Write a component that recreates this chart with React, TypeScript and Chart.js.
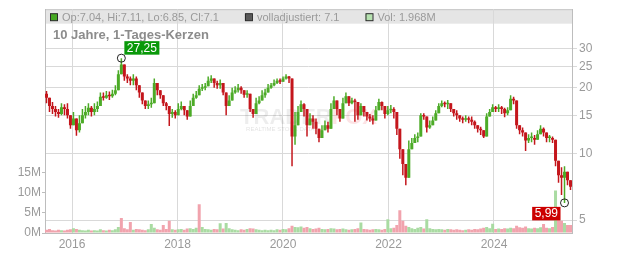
import { useEffect, useRef } from 'react';
import { Chart, registerables } from 'chart.js';

Chart.register(...registerables);

// ---- data ----
const START_YEAR = 2015.488;
const END_YEAR = 2025.479;
const FIRST_OPEN = 18.8;

const closes = [
  18.0, 16.5, 16.0, 15.5, 15.2, 16.3, 16.0, 15.0, 13.5, 14.5,
  12.8, 13.8, 15.0, 15.5, 16.2, 15.5, 16.0, 16.5, 18.2, 18.0,
  18.5, 18.3, 18.8, 19.5, 23.0, 25.5, 22.5, 22.0, 21.5, 22.0,
  20.5, 19.0, 17.5, 16.5, 16.8, 17.0, 21.0, 19.5, 18.5, 17.0,
  16.5, 15.2, 15.5, 15.0, 16.0, 16.5, 15.8, 14.8, 16.5, 18.0,
  18.5, 19.8, 20.0, 20.3, 21.5, 22.0, 21.0, 20.5, 21.0, 19.0,
  16.5, 17.5, 19.0, 19.5, 20.0, 19.5, 18.6, 18.8, 16.0, 15.2,
  17.0, 17.5, 18.5, 19.0, 20.0, 20.5, 21.0, 21.5, 21.3, 22.0,
  22.5, 22.0, 12.0, 13.5, 15.5, 16.8, 16.0, 13.5, 14.5, 14.0,
  13.0, 11.8, 12.8, 13.5, 13.0, 16.0, 17.5, 16.0, 14.5, 17.0,
  18.3, 17.0, 17.5, 17.2, 15.0, 16.5, 15.5, 14.8, 14.5, 14.2,
  15.8, 17.2, 16.5, 15.2, 15.8, 16.0, 15.5, 13.0, 10.5, 9.0,
  7.8, 10.5, 11.2, 11.8, 12.0, 15.0, 14.8, 13.2, 13.5, 14.2,
  15.3, 16.5, 17.0, 16.8, 17.0, 16.0, 15.3, 15.0, 14.5, 14.3,
  14.5, 14.3, 14.0, 13.5, 13.0, 12.8, 12.0, 14.8, 15.5, 16.3,
  16.0, 16.3, 16.0, 15.3, 15.8, 17.8, 17.5, 13.5, 12.8, 12.5,
  11.5, 11.8, 11.8, 11.6, 12.3, 13.0, 12.5, 11.8, 11.8, 11.6,
  9.3, 8.0, 7.8, 8.3, 7.6, 7.1,
];

const highs = [
  19.3, 17.5, 17.2, 16.5, 16.0, 17.0, 16.8, 17.0, 14.5, 15.5,
  14.0, 15.0, 16.0, 16.5, 17.0, 16.5, 17.0, 17.3, 19.0, 19.0,
  19.3, 19.2, 19.6, 20.5, 24.0, 27.25, 24.0, 23.0, 22.5, 23.0,
  22.5, 20.5, 18.5, 17.5, 17.5, 18.0, 22.0, 21.0, 19.5, 18.0,
  17.2, 16.2, 16.0, 15.8, 17.0, 17.3, 16.5, 15.6, 17.5, 18.8,
  19.3, 20.5, 20.8, 21.0, 22.5, 22.8, 21.8, 21.5, 21.8, 20.5,
  18.0, 18.5, 20.0, 20.3, 20.8, 20.3, 19.3, 19.5, 17.5, 16.0,
  18.0, 18.3, 19.5, 19.8, 20.8, 21.0, 21.8, 22.0, 22.0, 22.5,
  23.0, 22.6, 20.0, 15.5, 16.5, 17.5, 17.0, 15.0, 15.3, 15.0,
  14.5, 12.8, 13.5, 14.2, 14.0, 17.0, 18.3, 17.0, 16.0, 18.0,
  19.0, 18.0, 18.0, 17.8, 16.0, 17.0, 16.2, 15.5, 15.2, 15.0,
  16.5, 17.8, 17.3, 16.0, 16.5, 16.7, 16.3, 14.0, 12.5, 10.5,
  9.0, 11.5, 11.8, 12.3, 12.5, 15.3, 15.3, 14.5, 14.2, 14.8,
  15.8, 17.0, 17.5, 17.3, 17.6, 16.8, 16.0, 15.8, 15.0, 14.8,
  15.0, 14.8, 14.8, 14.2, 13.5, 13.3, 12.8, 15.3, 16.0, 16.8,
  16.5, 16.8, 16.5, 16.2, 16.3, 18.5, 18.2, 17.5, 13.5, 13.2,
  12.3, 12.3, 12.5, 12.2, 12.8, 13.5, 13.2, 12.3, 12.2, 12.0,
  10.0, 8.8, 8.7, 8.8, 8.2, 7.4,
];

const lows = [
  17.0, 15.5, 15.2, 14.8, 14.6, 15.0, 15.0, 14.5, 13.0, 13.5,
  12.1, 12.5, 14.0, 14.5, 15.0, 14.8, 15.0, 15.5, 17.5, 17.5,
  17.8, 17.6, 18.0, 18.5, 21.0, 23.5, 21.5, 21.0, 20.5, 20.5,
  19.5, 18.0, 16.8, 16.0, 16.0, 16.2, 19.5, 18.5, 17.8, 16.5,
  15.8, 13.4, 14.6, 14.5, 15.3, 15.8, 15.0, 14.3, 15.0, 17.0,
  17.8, 19.0, 19.3, 19.5, 20.5, 21.0, 20.0, 19.8, 19.8, 18.5,
  15.0, 16.5, 18.0, 18.8, 19.0, 18.8, 18.0, 18.0, 15.5, 14.6,
  16.2, 16.8, 17.8, 18.0, 19.3, 19.8, 20.3, 20.8, 20.8, 21.3,
  21.8, 21.0, 8.8, 11.0, 14.0, 15.5, 14.8, 12.0, 13.5, 13.0,
  12.3, 11.3, 12.0, 12.8, 12.5, 15.0, 16.5, 15.0, 14.0, 16.0,
  17.2, 16.5, 16.8, 14.0, 14.3, 15.5, 14.8, 14.2, 14.0, 13.6,
  15.0, 16.5, 15.8, 14.5, 15.0, 15.3, 14.5, 12.2, 9.5, 8.0,
  7.2, 9.5, 10.5, 11.2, 11.3, 12.5, 14.3, 12.5, 13.0, 13.5,
  14.6, 15.8, 16.3, 16.3, 16.0, 15.5, 14.8, 14.3, 14.0, 13.8,
  14.0, 13.8, 13.5, 13.0, 12.5, 12.2, 11.8, 12.5, 15.0, 15.8,
  15.5, 15.5, 15.2, 14.7, 15.0, 17.0, 16.8, 13.0, 12.3, 12.0,
  10.3, 11.2, 11.3, 11.0, 11.8, 12.3, 12.0, 11.3, 11.3, 11.2,
  8.8, 7.4, 6.5, 5.99, 7.2, 6.85,
];

const volumesM = [
  0.8, 1.0, 0.7, 0.6, 0.8, 0.7, 0.6, 0.8, 0.9, 1.2,
  1.0, 0.8, 0.7, 0.6, 0.8, 0.6, 0.7, 0.6, 0.9, 0.7,
  0.6, 0.8, 0.7, 0.9, 1.5, 3.7, 1.2, 0.9, 2.7, 0.8,
  1.0, 0.9, 0.8, 0.7, 0.9, 2.2, 1.3, 0.9, 0.8, 2.0,
  1.0, 3.0, 0.9, 0.8, 0.9, 1.0, 0.8, 1.1, 1.2, 1.0,
  1.3, 7.1, 1.5, 1.0, 0.9, 0.8, 1.0, 0.9, 2.4, 1.1,
  2.5, 1.2, 0.9, 0.8, 0.7, 0.9, 0.8, 1.0, 1.2, 1.1,
  0.9, 0.8, 0.7, 0.8, 0.7, 0.8, 0.7, 0.9, 0.8, 1.0,
  0.9, 1.2, 1.8, 1.5, 1.4, 1.6, 1.3, 1.5, 1.2, 1.0,
  1.1, 1.3, 1.0, 0.9, 1.0, 1.2, 1.1, 0.9, 1.0, 1.1,
  0.9, 0.8, 0.9, 1.0, 1.2, 2.6, 1.0, 0.9, 0.8, 0.9,
  1.0, 0.9, 0.8, 1.0, 3.4, 1.2, 1.3, 2.0, 5.6, 3.0,
  1.8, 1.5, 1.2, 1.0, 1.3, 1.5, 1.1, 3.4, 1.2, 1.0,
  0.9, 1.0, 0.9, 0.8, 1.0, 0.9, 0.8, 0.9, 0.8, 0.7,
  0.8, 0.9, 0.8, 1.0, 0.9, 1.1, 1.3, 1.5, 1.2, 2.3,
  1.0, 1.1, 1.0, 1.2, 1.1, 1.3, 1.2, 1.8, 1.4, 1.3,
  1.6, 1.2, 1.1, 1.3, 1.2, 1.4, 2.2, 1.3, 1.2, 1.5,
  10.5, 4.4, 3.0, 2.5, 2.0, 1.97,
];

// colour of the taller volume spikes as seen in the picture (g = up day, r = down day)
const spikeTone: Record<number, string> = {
  25: 'r', 28: 'r', 35: 'g', 39: 'r', 41: 'r', 51: 'r', 58: 'g', 60: 'g',
  105: 'g', 114: 'g', 118: 'r', 119: 'r', 127: 'g', 149: 'g', 166: 'r',
  170: 'g', 171: 'r', 172: 'r', 173: 'g',
};

const yearTicks = [2016, 2018, 2020, 2022, 2024];
const priceTicks = [5, 10, 15, 20, 25, 30];
const volumeTicks = [0, 5e6, 10e6, 15e6];

const headerItems = [
  { color: '#46a823', text: 'Op:7.04, Hi:7.11, Lo:6.85, Cl:7.1' },
  { color: '#5a5a5a', text: 'volladjustiert: 7.1' },
  { color: '#b6e2b0', text: 'Vol: 1.968M' },
];
const TITLE = '10 Jahre, 1-Tages-Kerzen';

// ---- axis ranges & styles ----
const PRICE_MIN = 4.37;
const PRICE_MAX = 45.5;
const VOL_MAX = 55.3e6;
const FONT = "'Liberation Sans', Arial, Helvetica, sans-serif";
const GRID = '#d9d9d9';
const AXIS = '#bdbdbd';
const TICK = '#9a9a9a';
const RED = '#c4161c';
const GREEN = '#4cab27';
const VOL_RED = '#f1a3ad';
const VOL_GREEN = '#a9dba2';

const n = closes.length;
const stepYears = (END_YEAR - START_YEAR) / n;
const times = closes.map((_, i) => START_YEAR + (i + 0.5) * stepYears);
const opens = closes.map((_, i) => (i === 0 ? FIRST_OPEN : closes[i - 1]));
const up = closes.map((c, i) => c >= opens[i]);

const overlayPlugin = {
  id: 'overlay',
  beforeDraw(chart: any) {
    const { ctx, chartArea: a } = chart;
    ctx.save();
    ctx.fillStyle = '#e5e5e5';
    ctx.fillRect(a.left, a.top, a.right - a.left, 14.5);
    ctx.strokeStyle = '#c6c6c6';
    ctx.lineWidth = 1;
    ctx.beginPath();
    ctx.moveTo(a.left, a.top + 0.5);
    ctx.lineTo(a.right, a.top + 0.5);
    ctx.stroke();
    ctx.restore();
  },
  beforeDatasetsDraw(chart: any) {
    const { ctx, chartArea: a } = chart;
    ctx.save();
    ctx.font = `bold 22px ${FONT}`;
    const w1 = ctx.measureText('TRADER').width;
    const w2 = ctx.measureText('FOX').width;
    const cx = (a.left + a.right) / 2;
    const x0 = cx - (w1 + w2) / 2;
    ctx.textBaseline = 'alphabetic';
    ctx.fillStyle = 'rgba(0,0,0,0.07)';
    ctx.fillText('TRADER', x0, 124);
    ctx.fillStyle = 'rgba(228,40,55,0.13)';
    ctx.fillText('FOX', x0 + w1, 124);
    ctx.font = `6px ${FONT}`;
    ctx.fillStyle = 'rgba(0,0,0,0.12)';
    ctx.fillText('REALTIME STOCK DATA', x0 + 6, 131);
    ctx.restore();
  },
  afterDraw(chart: any) {
    const { ctx, chartArea: a, scales } = chart;
    ctx.save();
    // header legend
    ctx.font = `11px ${FONT}`;
    ctx.textBaseline = 'alphabetic';
    let x = a.left + 5;
    headerItems.forEach((it) => {
      ctx.fillStyle = it.color;
      ctx.fillRect(x, a.top + 4.5, 7, 7);
      ctx.strokeStyle = '#2a2a2a';
      ctx.lineWidth = 1;
      ctx.strokeRect(x + 0.5, a.top + 4.5, 7, 7);
      ctx.fillStyle = '#9a9a9a';
      ctx.fillText(it.text, x + 12, a.top + 12);
      x += 12 + ctx.measureText(it.text).width + 26;
    });
    // title
    ctx.font = `bold 13px ${FONT}`;
    ctx.fillStyle = '#8c8c8c';
    ctx.fillText(TITLE, a.left + 8, a.top + 29.5);

    // extremes
    const xs = scales.x;
    const ys = scales.price;
    let maxI = 0;
    let minI = 0;
    for (let i = 0; i < n; i++) {
      if (highs[i] > highs[maxI]) maxI = i;
      if (lows[i] < lows[minI]) minI = i;
    }
    const drawMarker = (i: number, value: number, color: string, above: boolean) => {
      const cx = xs.getPixelForValue(times[i]);
      const cy = ys.getPixelForValue(value);
      ctx.strokeStyle = '#222';
      ctx.lineWidth = 1;
      ctx.beginPath();
      ctx.arc(cx, cy, 4, 0, Math.PI * 2);
      ctx.stroke();
      const label = value.toFixed(2).replace('.', ',');
      ctx.font = `12px ${FONT}`;
      const tw = ctx.measureText(label).width;
      const bw = tw + 5;
      const bh = 13.5;
      const bx = above ? cx + 3 : cx - 4 - bw;
      const by = above ? cy - 17 : cy + 4;
      ctx.fillStyle = color;
      ctx.fillRect(bx, by, bw, bh);
      ctx.fillStyle = '#fff';
      ctx.textAlign = 'center';
      ctx.textBaseline = 'middle';
      ctx.fillText(label, bx + bw / 2, by + bh / 2 + 0.5);
      ctx.textAlign = 'left';
      ctx.textBaseline = 'alphabetic';
    };
    drawMarker(maxI, highs[maxI], '#0a990a', true);
    drawMarker(minI, lows[minI], '#cc0000', false);
    ctx.restore();
  },
};

export default function App() {
  const ref = useRef<HTMLCanvasElement>(null);
  useEffect(() => {
    const bodies = closes.map((c, i) => ({ x: times[i], y: [Math.min(opens[i], c), Math.max(opens[i], c)] }));
    const wicks = closes.map((c, i) => ({
      x: times[i],
      y: [Math.min(lows[i], opens[i], c), Math.max(highs[i], opens[i], c)],
    }));
    const vols = volumesM.map((v, i) => ({ x: times[i], y: v * 1e6 }));
    const candleColors = up.map((u) => (u ? GREEN : RED));
    const volColors = up.map((u, i) => {
      const tone = spikeTone[i];
      if (tone) return tone === 'g' ? VOL_GREEN : VOL_RED;
      return u ? VOL_GREEN : VOL_RED;
    });
    const tickFont = { family: FONT, size: 12 };

    const chart = new Chart(ref.current as HTMLCanvasElement, {
      type: 'bar',
      data: {
        datasets: [
          {
            label: 'body',
            data: bodies as any,
            yAxisID: 'price',
            backgroundColor: candleColors,
            grouped: false,
            barPercentage: 1,
            categoryPercentage: 1,
            minBarLength: 1.5,
            inflateAmount: 0,
          } as any,
          {
            label: 'wick',
            data: wicks as any,
            yAxisID: 'price',
            backgroundColor: candleColors,
            grouped: false,
            barPercentage: 0.5,
            categoryPercentage: 1,
            inflateAmount: 0,
          } as any,
          {
            label: 'vol',
            data: vols as any,
            yAxisID: 'vol',
            backgroundColor: volColors,
            grouped: false,
            barPercentage: 1,
            categoryPercentage: 1,
            inflateAmount: 0,
          } as any,
        ],
      },
      options: {
        responsive: false,
        animation: false,
        devicePixelRatio: 1,
        layout: { padding: { top: 8, left: 0, right: 0, bottom: 0 } },
        plugins: { legend: { display: false }, tooltip: { enabled: false } },
        scales: {
          x: {
            type: 'linear',
            min: START_YEAR,
            max: END_YEAR,
            offset: false,
            grid: { color: GRID, offset: false, drawTicks: false },
            border: { display: true, color: AXIS },
            ticks: {
              color: TICK,
              font: tickFont,
              padding: 4,
              maxRotation: 0,
              autoSkip: false,
              callback: (v: any) => String(v),
            },
            afterBuildTicks: (s: any) => {
              s.ticks = yearTicks.map((v) => ({ value: v }));
            },
            afterFit: (s: any) => {
              s.height = 20;
            },
          },
          price: {
            type: 'logarithmic',
            position: 'right',
            min: PRICE_MIN,
            max: PRICE_MAX,
            grid: { color: GRID, drawTicks: true, tickLength: 5 },
            border: { display: true, color: AXIS },
            ticks: {
              color: TICK,
              font: tickFont,
              padding: 2,
              autoSkip: false,
              callback: (v: any) => String(v),
            },
            afterBuildTicks: (s: any) => {
              s.ticks = priceTicks.map((v) => ({ value: v }));
            },
            afterFit: (s: any) => {
              s.width = 60;
            },
          },
          vol: {
            type: 'linear',
            position: 'left',
            min: 0,
            max: VOL_MAX,
            grid: { drawOnChartArea: false, drawTicks: true, tickLength: 3, color: AXIS },
            border: { display: true, color: AXIS },
            ticks: {
              color: TICK,
              font: tickFont,
              padding: 1,
              autoSkip: false,
              callback: (v: any) => `${Math.round(v / 1e6)}M`,
            },
            afterBuildTicks: (s: any) => {
              s.ticks = volumeTicks.map((v) => ({ value: v }));
            },
            afterFit: (s: any) => {
              s.width = 45;
            },
          },
        },
      } as any,
      plugins: [overlayPlugin],
    });
    return () => chart.destroy();
  }, []);

  return (
    <div style={{ position: 'absolute', left: 0, top: 0, width: 632, height: 253, background: '#fff' }}>
      <canvas ref={ref} width={632} height={253} style={{ display: 'block', width: 632, height: 253 }} />
    </div>
  );
}
